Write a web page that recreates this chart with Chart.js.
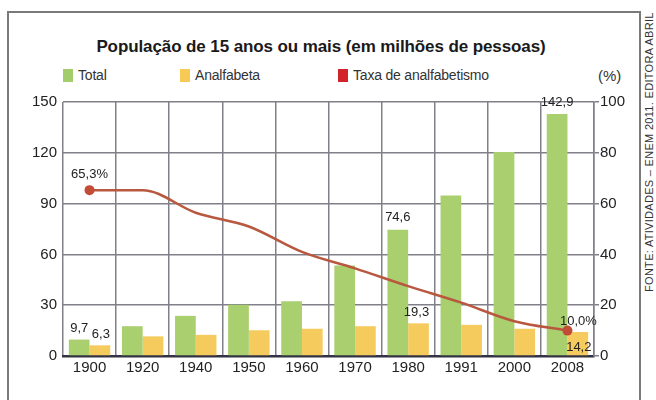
<!DOCTYPE html>
<html><head><meta charset="utf-8">
<script src="https://cdn.jsdelivr.net/npm/chart.js@4/dist/chart.umd.min.js"></script>
<style>
html,body{margin:0;padding:0;background:#fff;}
#wrap{position:relative;width:656px;height:400px;overflow:hidden;font-family:"Liberation Sans",Arial,sans-serif;}
#frame{position:absolute;left:7px;top:11px;width:634px;height:420px;border:2px solid #7a7a7a;box-sizing:border-box;}
#title{position:absolute;left:0;width:642px;top:37px;text-align:center;font-weight:bold;font-size:17px;color:#1a1a1a;letter-spacing:-0.1px;}
.lg{position:absolute;top:67px;font-size:14px;color:#333;white-space:nowrap;letter-spacing:-0.2px;}
.lg i{display:inline-block;width:10px;height:13px;vertical-align:-2px;margin-right:5px;}
#pct{position:absolute;left:598px;top:67px;font-size:15px;color:#333;}
#src{position:absolute;left:643px;top:292px;transform-origin:0 0;transform:rotate(-90deg);font-size:11px;color:#333;white-space:nowrap;letter-spacing:0.3px;}
canvas{position:absolute;left:0;top:0;}
</style></head>
<body><div id="wrap">
<div id="frame"></div>
<div id="title">População de 15 anos ou mais (em milhões de pessoas)</div>
<div class="lg" style="left:63px"><i style="background:#a3cc6a"></i>Total</div>
<div class="lg" style="left:180px"><i style="background:#f7c955"></i>Analfabeta</div>
<div class="lg" style="left:338px"><i style="background:#d2232a"></i>Taxa de analfabetismo</div>
<div id="pct">(%)</div>
<div id="src">FONTE: ATIVIDADES – ENEM 2011. EDITORA ABRIL</div>
<canvas id="c" width="656" height="400"></canvas>
</div>
<script>
const years = ["1900","1920","1940","1950","1960","1970","1980","1991","2000","2008"];
const total = [9.7, 17.6, 23.7, 30.2, 32.4, 53.5, 74.6, 94.8, 120.5, 142.9];
const analfabeta = [6.3, 11.6, 12.5, 15.2, 16.1, 17.6, 19.3, 18.4, 16.1, 14.2];
const taxa = [65.3, 65.3, 56.4, 51.0, 41.0, 34.5, 27.5, 21.0, 13.7, 10.0];
const leftTicks = [0, 30, 60, 90, 120, 150];
const rightTicks = [0, 20, 40, 60, 80, 100];

const labelsPlugin = {
  id: 'vals',
  afterDatasetsDraw(chart) {
    const ctx = chart.ctx;
    ctx.save();
    ctx.font = '13px "Liberation Sans", Arial, sans-serif';
    ctx.fillStyle = '#222';
    ctx.textAlign = 'center';
    ctx.textBaseline = 'middle';
    const g = chart.getDatasetMeta(0).data;
    const y = chart.getDatasetMeta(1).data;
    const l = chart.getDatasetMeta(2).data;
    const fmt = v => v.toFixed(1).replace('.', ',');
    const put = (txt, el, dx, dy) => ctx.fillText(txt, el.x + dx, el.y + dy);
    put(fmt(total[0]), g[0], 0, -11);
    put(fmt(analfabeta[0]), y[0], 1, -11);
    put(fmt(total[6]), g[6], 0, -12);
    put(fmt(analfabeta[6]), y[6], -2, -11);
    put(fmt(total[9]), g[9], 0, -12);
    put(fmt(analfabeta[9]), y[9], 1, 15);
    put(fmt(taxa[0]) + '%', l[0], 0, -16);
    put(fmt(taxa[9]) + '%', l[9], 11, -9);
    ctx.restore();
  }
};

new Chart(document.getElementById('c'), {
  data: {
    labels: years,
    datasets: [
      { type: 'bar', label: 'Total', data: total, backgroundColor: '#a9cf6e', yAxisID: 'y', order: 2,
        categoryPercentage: 0.78, barPercentage: 1.0 },
      { type: 'bar', label: 'Analfabeta', data: analfabeta, backgroundColor: '#f6cb5e', yAxisID: 'y', order: 2,
        categoryPercentage: 0.78, barPercentage: 1.0 },
      { type: 'line', label: 'Taxa de analfabetismo', data: taxa, yAxisID: 'y1', order: 0,
        borderColor: '#b8583f', borderWidth: 2.5, cubicInterpolationMode: 'monotone',
        pointRadius: [5,0,0,0,0,0,0,0,0,5], pointBackgroundColor: '#c24c35', pointBorderWidth: 0 }
    ]
  },
  options: {
    responsive: false,
    animation: false,
    layout: { padding: { top: 102, left: 0, right: 0, bottom: 0 } },
    plugins: { legend: { display: false }, tooltip: { enabled: false }, title: { display: false } },
    scales: {
      x: {
        grid: { color: '#80808a', lineWidth: 1.5, drawTicks: false, offset: true },
        border: { color: '#333344', width: 2.5 },
        ticks: { color: '#222', font: { size: 15, family: '"Liberation Sans", Arial, sans-serif' }, padding: 3, maxRotation: 0 },
        afterFit(s) { s.height = 44; }
      },
      y: {
        position: 'left', min: 0, max: 150,
        afterBuildTicks(s) { s.ticks = leftTicks.map(v => ({ value: v })); },
        grid: { color: '#80808a', lineWidth: 1.5, drawTicks: false },
        border: { display: false },
        ticks: { color: '#222', font: { size: 15, family: '"Liberation Sans", Arial, sans-serif' }, padding: 6 },
        afterFit(s) { s.width = 63; }
      },
      y1: {
        position: 'right', min: 0, max: 100,
        afterBuildTicks(s) { s.ticks = rightTicks.map(v => ({ value: v })); },
        grid: { drawOnChartArea: false, color: '#80808a', lineWidth: 1.5, tickLength: 5 },
        border: { color: '#80808a', width: 1.5 },
        ticks: { color: '#222', font: { size: 15, family: '"Liberation Sans", Arial, sans-serif' }, padding: 1 },
        afterFit(s) { s.width = 62; }
      }
    }
  },
  plugins: [labelsPlugin]
});
</script>
</body></html>
